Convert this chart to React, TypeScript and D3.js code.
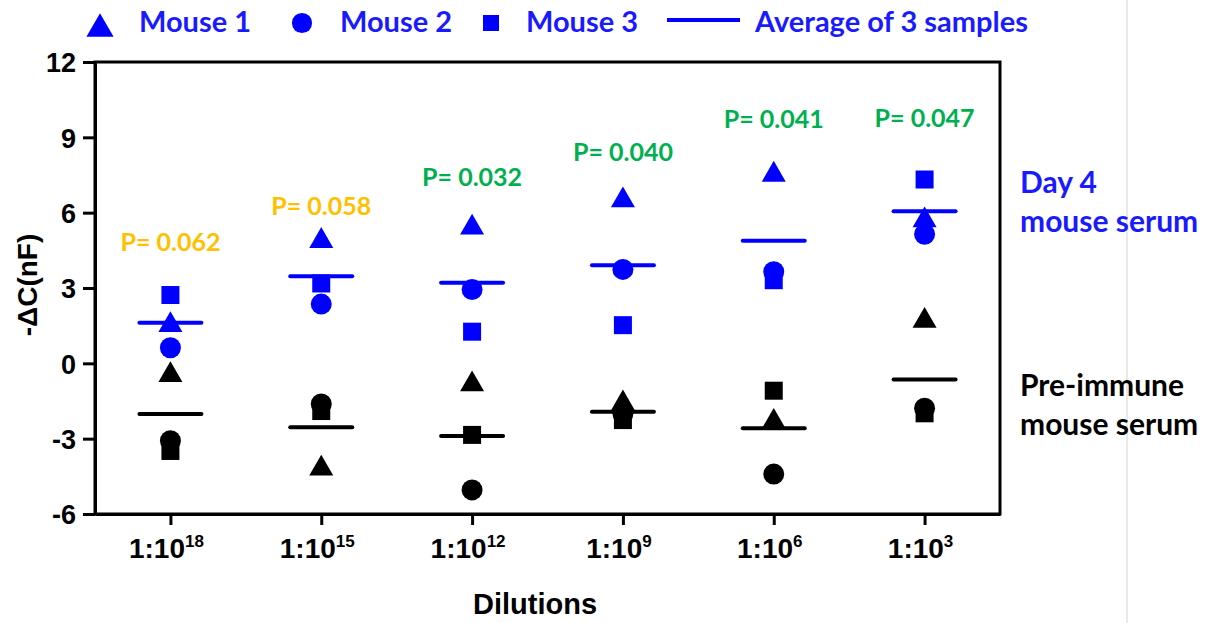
import React, { useEffect, useRef } from "react";
import * as d3 from "d3";

// dilution exponents (1:10^n)
const dilutions = ["18", "15", "12", "9", "6", "3"];

// Day 4 mouse serum
const day4Mouse1 = [1.66, 5.01, 5.54, 6.63, 7.65, 5.83];
const day4Mouse2 = [0.62, 2.36, 2.94, 3.74, 3.65, 5.14];
const day4Mouse3 = [2.72, 3.18, 1.26, 1.52, 3.31, 7.32];
const day4Mean = [1.62, 3.47, 3.21, 3.91, 4.88, 6.06];

// Pre-immune mouse serum
const preMouse1 = [-0.33, -4.05, -0.7, -1.46, -2.19, 1.83];
const preMouse2 = [-3.08, -1.62, -5.04, -2.0, -4.41, -1.79];
const preMouse3 = [-3.49, -1.9, -2.85, -2.26, -1.09, -1.99];
const preMean = [-2.02, -2.55, -2.89, -1.93, -2.59, -0.64];

// p values and where their labels sit (y in data units)
const pValues = ["0.062", "0.058", "0.032", "0.040", "0.041", "0.047"];
const pLabelAt = [4.47, 5.9, 7.06, 8.05, 9.36, 9.4];

const yTicks = [-6, -3, 0, 3, 6, 9, 12];

const W = 1217;
const H = 623;
const BLUE = "#0000ff";
const BLUE_TEXT = "#1a1aff";
const ARIAL = "'Liberation Sans', Arial, sans-serif";
const CALIBRI = "Lato, 'Open Sans', sans-serif";

// triangle centred on its bounding box
const triangle = {
  draw(ctx: any, size: number) {
    const s = Math.sqrt((size * 4) / Math.sqrt(3));
    const h = (s * Math.sqrt(3)) / 2;
    ctx.moveTo(0, -h / 2);
    ctx.lineTo(s / 2, h / 2);
    ctx.lineTo(-s / 2, h / 2);
    ctx.closePath();
  },
};

const shapes = [
  { type: triangle, size: 250 },
  { type: d3.symbolCircle, size: 346 },
  { type: d3.symbolSquare, size: 324 },
];

export default function App() {
  const ref = useRef<SVGSVGElement>(null);

  useEffect(() => {
    const svg = d3.select(ref.current);
    svg.selectAll("*").remove();

    const x = d3.scalePoint<string>().domain(dilutions).range([95, 1000]).padding(0.5);
    const y = d3.scaleLinear().domain([-6, 12]).range([514, 62]);

    // light page divider on the right
    svg.append("line")
      .attr("x1", 1127).attr("x2", 1127).attr("y1", 0).attr("y2", H)
      .attr("stroke", "#d4d4d4").attr("stroke-width", 1);

    // frame
    svg.append("rect")
      .attr("x", 95).attr("y", 62).attr("width", 905).attr("height", 452)
      .attr("fill", "none").attr("stroke", "#000").attr("stroke-width", 3);

    // y axis
    const ya = svg.append("g").attr("transform", "translate(95,0)")
      .call(
        d3.axisLeft(y).tickValues(yTicks).tickSize(12).tickSizeOuter(0).tickPadding(7)
          .tickFormat((d) => String(d))
      );
    ya.select(".domain").attr("stroke-width", 3);
    ya.selectAll(".tick line").attr("stroke-width", 3);
    ya.selectAll(".tick text")
      .attr("font-family", ARIAL).attr("font-weight", "bold").attr("font-size", 27)
      .attr("fill", "#000").attr("dy", "0.36em");

    // x axis
    const xa = svg.append("g").attr("transform", "translate(0,514)")
      .call(d3.axisBottom(x).tickSize(11).tickSizeOuter(0).tickFormat(() => ""));
    xa.select(".domain").attr("stroke-width", 3);
    xa.selectAll(".tick line").attr("stroke-width", 3);

    const xl = svg.append("g").selectAll("text").data(dilutions).enter().append("text")
      .attr("x", (d) => (x(d) as number) - 4)
      .attr("y", 558)
      .attr("text-anchor", "middle")
      .attr("font-family", ARIAL).attr("font-weight", "bold").attr("font-size", 28);
    xl.append("tspan").text("1:10");
    xl.append("tspan").attr("dy", -11).attr("font-size", 17).text((d) => d);

    svg.append("text")
      .attr("x", 535).attr("y", 614).attr("text-anchor", "middle")
      .attr("font-family", ARIAL).attr("font-weight", "bold").attr("font-size", 29)
      .text("Dilutions");

    svg.append("text")
      .attr("transform", "translate(37,285) rotate(-90)")
      .attr("text-anchor", "middle")
      .attr("font-family", ARIAL).attr("font-weight", "bold").attr("font-size", 28)
      .text("-\u0394C(nF)");

    // markers
    const groups = [
      { color: "#000", series: [preMouse1, preMouse2, preMouse3], mean: preMean },
      { color: BLUE, series: [day4Mouse1, day4Mouse2, day4Mouse3], mean: day4Mean },
    ];
    groups.forEach((g) => {
      g.series.forEach((vals, i) => {
        const sym = d3.symbol().type(shapes[i].type as any).size(shapes[i].size);
        svg.append("g").selectAll("path").data(vals).enter().append("path")
          .attr("d", sym as any)
          .attr("transform", (v, j) => `translate(${x(dilutions[j])},${y(v)})`)
          .attr("fill", g.color);
      });
      svg.append("g").selectAll("line").data(g.mean).enter().append("line")
        .attr("x1", (v, j) => (x(dilutions[j]) as number) - 31)
        .attr("x2", (v, j) => (x(dilutions[j]) as number) + 31)
        .attr("y1", (v) => y(v)).attr("y2", (v) => y(v))
        .attr("stroke", g.color).attr("stroke-width", 4).attr("stroke-linecap", "round");
    });

    // p values
    svg.append("g").selectAll("text").data(pValues).enter().append("text")
      .attr("x", (p, j) => x(dilutions[j]) as number)
      .attr("y", (p, j) => y(pLabelAt[j]))
      .attr("text-anchor", "middle")
      .attr("font-family", CALIBRI).attr("font-weight", "bold").attr("font-size", 25)
      .attr("fill", (p) => (+p < 0.05 ? "#00b050" : "#ffc000"))
      .text((p) => `P= ${p}`);

    // side labels
    const side = [
      { lines: ["Day 4", "mouse serum"], y: 193, color: BLUE_TEXT },
      { lines: ["Pre-immune", "mouse serum"], y: 396, color: "#000" },
    ];
    side.forEach((s) => {
      s.lines.forEach((t, i) => {
        svg.append("text")
          .attr("x", 1020).attr("y", s.y + i * 39)
          .attr("font-family", CALIBRI).attr("font-weight", "bold").attr("font-size", 30)
          .attr("fill", s.color).text(t);
      });
    });

    // legend
    const legend = svg.append("g");
    const legendMarks = [
      { cx: 100, label: "Mouse 1", tx: 139 },
      { cx: 302, label: "Mouse 2", tx: 340 },
      { cx: 491, label: "Mouse 3", tx: 526 },
    ];
    legendMarks.forEach((m, i) => {
      legend.append("path")
        .attr("d", d3.symbol().type(shapes[i].type as any).size(i === 2 ? 256 : 320)() as string)
        .attr("transform", `translate(${m.cx},${i === 0 ? 25 : 23})`)
        .attr("fill", BLUE);
      legend.append("text")
        .attr("x", m.tx).attr("y", 32)
        .attr("font-family", CALIBRI).attr("font-weight", "bold").attr("font-size", 29)
        .attr("fill", BLUE_TEXT).text(m.label);
    });
    legend.append("line")
      .attr("x1", 667).attr("x2", 740).attr("y1", 20).attr("y2", 20)
      .attr("stroke", BLUE).attr("stroke-width", 4);
    legend.append("text")
      .attr("x", 755).attr("y", 32)
      .attr("font-family", CALIBRI).attr("font-weight", "bold").attr("font-size", 29)
      .attr("fill", BLUE_TEXT).text("Average of 3 samples");
  }, []);

  return (
    <svg
      ref={ref}
      width={W}
      height={H}
      style={{ position: "absolute", left: 0, top: 0, background: "#fff" }}
    />
  );
}
